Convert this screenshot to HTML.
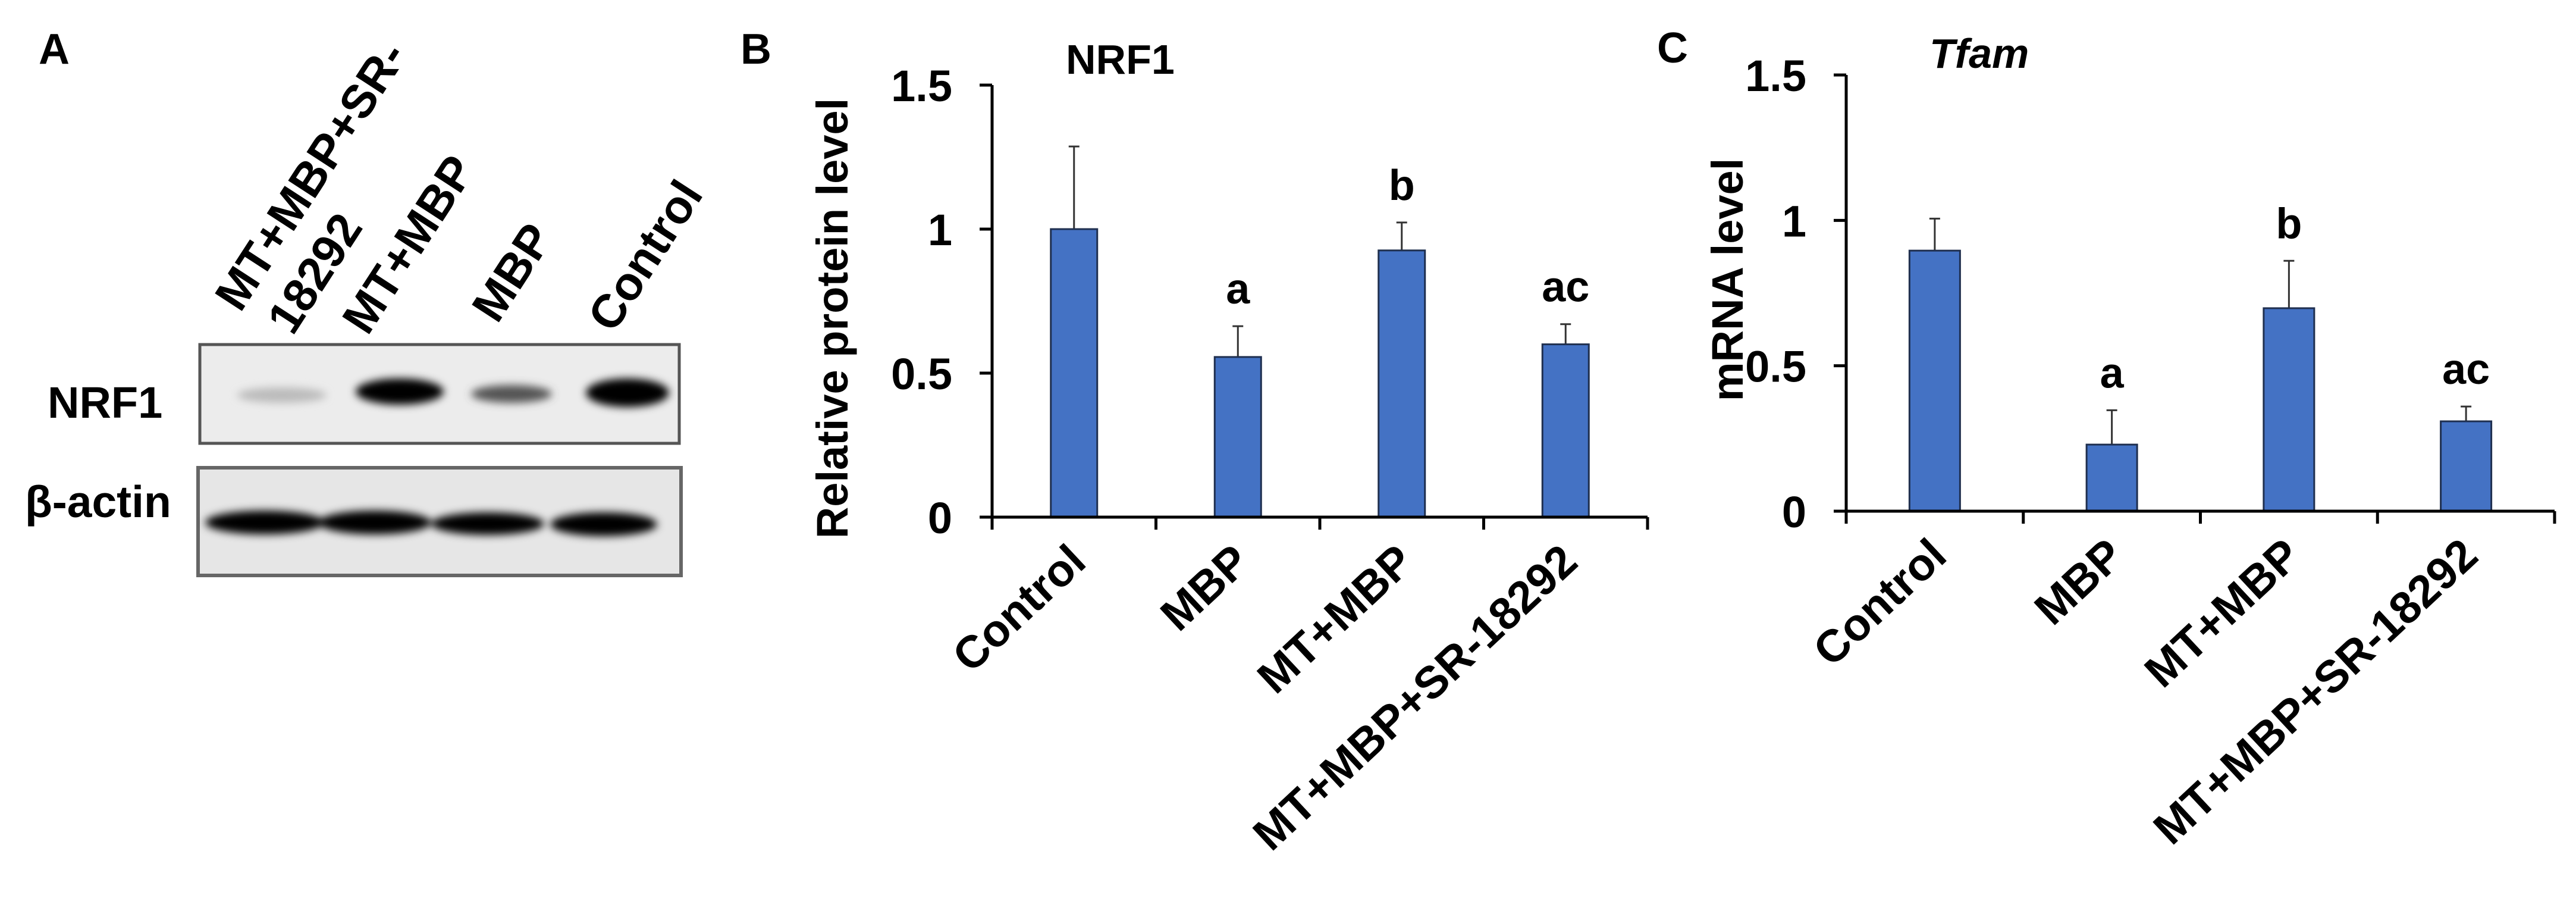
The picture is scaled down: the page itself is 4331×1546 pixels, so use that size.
<!DOCTYPE html>
<html><head><meta charset="utf-8"><style>
html,body{margin:0;padding:0;background:#fff;}
svg text{font-family:"Liberation Sans",Arial,sans-serif;font-weight:bold;fill:#000;}
</style></head><body>
<svg id="fig" width="4331" height="1541" viewBox="0 0 4331 1541" xmlns="http://www.w3.org/2000/svg">
<defs>
<filter id="blur" x="-20%" y="-50%" width="140%" height="200%"><feGaussianBlur stdDeviation="7"/></filter>
</defs>
<g>
<text x="65" y="107" font-size="72">A</text>
<text transform="translate(404,527) rotate(-57)" font-size="79">MT+MBP+SR-</text>
<text transform="translate(492,566) rotate(-57)" font-size="79">18292</text>
<text transform="translate(618,566) rotate(-57)" font-size="79">MT+MBP</text>
<text transform="translate(836,546) rotate(-57)" font-size="79">MBP</text>
<text transform="translate(1031,562) rotate(-57)" font-size="79">Control</text>
<text x="80" y="702" font-size="74">NRF1</text>
<text x="42" y="869" font-size="75">β-actin</text>
<rect x="336" y="579" width="806" height="166" fill="#ececec" stroke="#555" stroke-width="5"/>
<g filter="url(#blur)">
<ellipse cx="474" cy="664" rx="75" ry="13" fill="#bbb"/>
<ellipse cx="672" cy="658" rx="74" ry="22" fill="#000"/>
<ellipse cx="860" cy="662" rx="68" ry="15" fill="#555"/>
<ellipse cx="1055" cy="660" rx="70" ry="24" fill="#000"/>
</g>
<rect x="333" y="786" width="812" height="181" fill="#e6e6e6" stroke="#666" stroke-width="6"/>
<g filter="url(#blur)">
<ellipse cx="445" cy="878" rx="100" ry="20" fill="#000"/>
<ellipse cx="630" cy="878" rx="95" ry="20" fill="#000"/>
<ellipse cx="820" cy="880" rx="95" ry="19" fill="#000"/>
<ellipse cx="1015" cy="881" rx="90" ry="20" fill="#000"/>
</g>
</g>
<text x="1245" y="107" font-size="72">B</text>
<text x="2786" y="105" font-size="72">C</text>
<g id="chartB"></g>
<g id="chartC"></g>
</svg>
<script>
const categories = ["Control","MBP","MT+MBP","MT+MBP+SR-18292"];
const nrf1Values = [1.0, 0.556, 0.926, 0.60];
const nrf1Errors = [0.287, 0.107, 0.097, 0.07];
const nrf1Letters = ["", "a", "b", "ac"];
const tfamValues = [0.896, 0.229, 0.698, 0.309];
const tfamErrors = [0.11, 0.118, 0.163, 0.051];
const tfamLetters = ["", "a", "b", "ac"];
const yTicks = [0, 0.5, 1, 1.5];
const yTickLabels = ["0","0.5","1","1.5"];
const NS = "http://www.w3.org/2000/svg";
function mk(parent, tag, attrs, txt){
  const e = document.createElementNS(NS, tag);
  for (const k in attrs) e.setAttribute(k, attrs[k]);
  if (txt !== undefined) e.textContent = txt;
  parent.appendChild(e);
  return e;
}
function drawChart(g, cfg, values, errors, letters){
  const y = v => cfg.y0 - (v / 1.5) * (cfg.y0 - cfg.yTop);
  const catW = (cfg.xEnd - cfg.x0) / categories.length;
  const xc = i => cfg.x0 + catW * (i + 0.5);
  const ax = mk(g, "line", {x1:cfg.x0, y1:cfg.yTop, x2:cfg.x0, y2:cfg.y0, stroke:"#000", "stroke-width":5});
  
  
  yTicks.forEach((t, i) => {
    const tk = mk(g, "line", {x1:cfg.x0 - 21, y1:y(t), x2:cfg.x0, y2:y(t), stroke:"#000", "stroke-width":5});
    
    
    const tl = mk(g, "text", {x:cfg.x0 - 67, y:y(t) + 27, "text-anchor":"end", "font-size":74}, yTickLabels[i]);
    
    
  });
  values.forEach((v, i) => {
    const cx = xc(i);
    const e = mk(g, "line", {x1:cx, y1:y(v), x2:cx, y2:y(v + errors[i]), stroke:"#333", "stroke-width":3});
    
    
    const cap = mk(g, "line", {x1:cx - 9, y1:y(v + errors[i]), x2:cx + 9, y2:y(v + errors[i]), stroke:"#333", "stroke-width":3});
    
    
    const b = mk(g, "rect", {x:cx - cfg.bw / 2, y:y(v), width:cfg.bw, height:cfg.y0 - y(v), fill:"#4472C4", stroke:"#1f2f4f", "stroke-width":3});
    
    
    if (letters[i]) {
      const l = mk(g, "text", {x:cx, y:y(v + errors[i]) - 38, "text-anchor":"middle", "font-size":72}, letters[i]);
      
      
    }
    const xl = mk(g, "text", {transform:"translate(" + (cx + 24) + "," + (cfg.y0 + 80) + ") rotate(-43)", "text-anchor":"end", "font-size":76}, categories[i]);
    
    
  });
  for (let i = 0; i <= categories.length; i++) {
    const tx = cfg.x0 + catW * i;
    const tk = mk(g, "line", {x1:tx, y1:cfg.y0, x2:tx, y2:cfg.y0 + 21, stroke:"#000", "stroke-width":5});
    
    
  }
  const xa = mk(g, "line", {x1:cfg.x0 - 21, y1:cfg.y0, x2:cfg.xEnd, y2:cfg.y0, stroke:"#000", "stroke-width":5});
  
  
  const t = mk(g, "text", {x:cfg.titleX, y:cfg.titleY, "font-size":70, "font-style":cfg.italic ? "italic" : "normal"}, cfg.title);
  
  
  const yl = mk(g, "text", {transform:"translate(" + cfg.ylx + "," + cfg.yly + ") rotate(-90)", "text-anchor":"middle", "font-size":cfg.ylSize}, cfg.ylabel);
  
  
}
drawChart(document.getElementById("chartB"),
  {x0:1668, xEnd:2770, y0:869, yTop:143, bw:78, title:"NRF1", titleX:1792, titleY:124, italic:false,
   ylabel:"Relative protein level", ylx:1425, yly:535, ylSize:74},
  nrf1Values, nrf1Errors, nrf1Letters);
drawChart(document.getElementById("chartC"),
  {x0:3104, xEnd:4295, y0:859, yTop:126, bw:85, title:"Tfam", titleX:3244, titleY:114, italic:true,
   ylabel:"mRNA level", ylx:2930, yly:470, ylSize:74},
  tfamValues, tfamErrors, tfamLetters);
</script>
</body></html>
